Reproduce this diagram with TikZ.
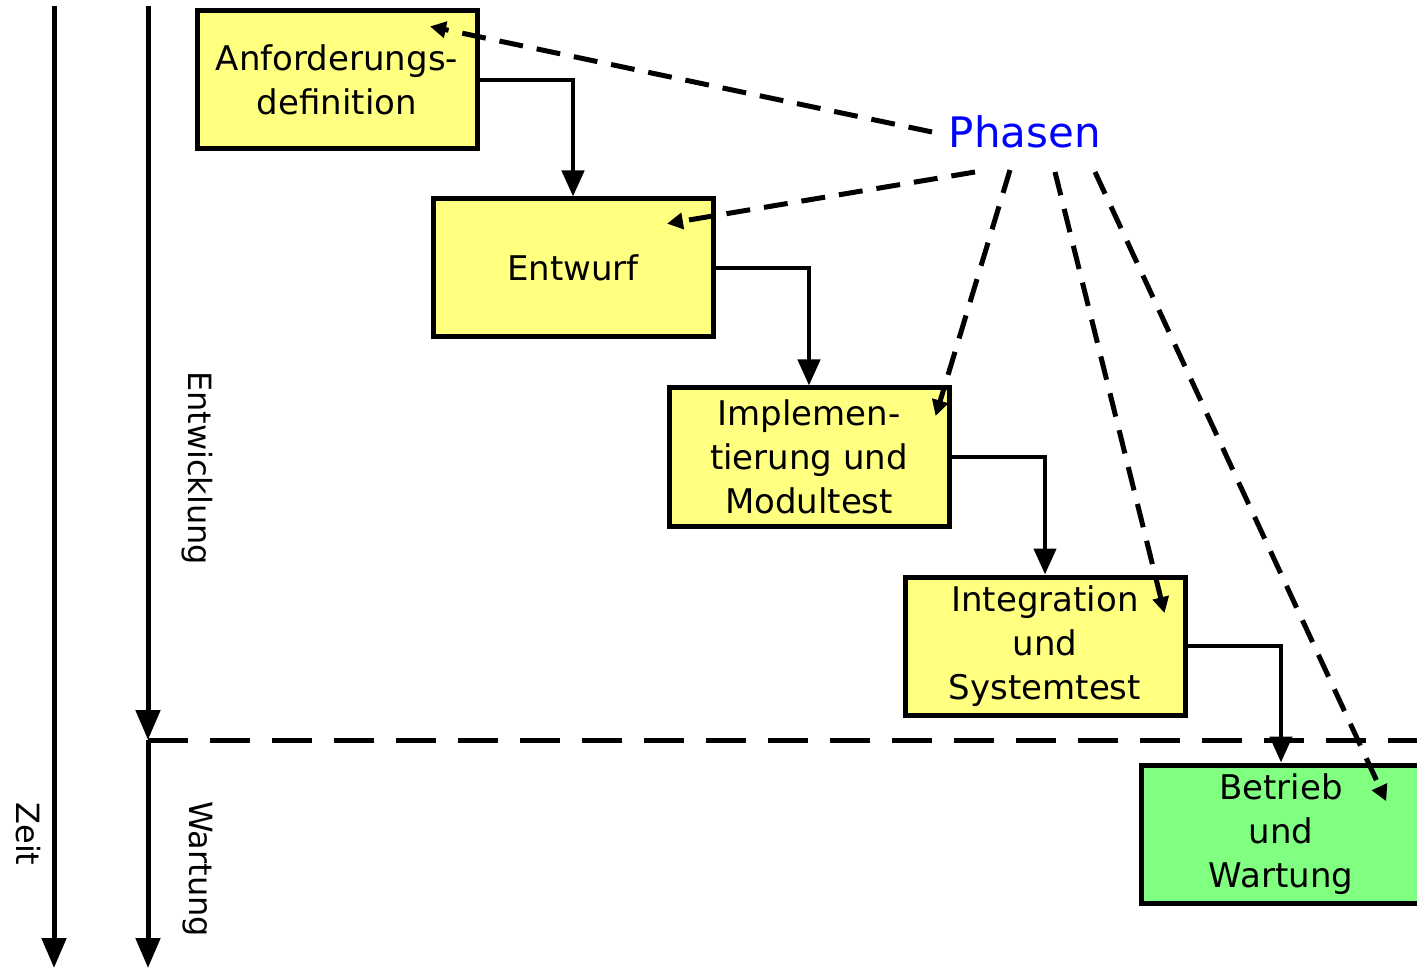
\documentclass[tikz,border=0pt]{standalone}
\usepackage{fontspec}
\setmainfont{DejaVu Sans}
\usetikzlibrary{arrows.meta}
\definecolor{boxyellow}{HTML}{FFFF80}
\definecolor{boxgreen}{HTML}{80FF80}
\begin{document}
\begin{tikzpicture}[x=1pt,y=-1pt,
  phase/.style={draw=black,line width=5pt,fill=boxyellow,minimum width=280pt,minimum height=138pt,inner sep=0pt,align=center,font=\fontsize{34}{44}\selectfont},
  flow/.style={line width=4.5pt,-{Triangle[length=26pt,width=22pt]}},
  time/.style={line width=5pt,-{Triangle[length=30pt,width=24pt]}},
  pointer/.style={line width=5pt,dash pattern=on 24pt off 14pt,-{Triangle[length=16pt,width=16pt]},shorten >=2pt},
  vlabel/.style={rotate=-90,font=\fontsize{32}{36}\selectfont}]
\useasboundingbox (0,0) rectangle (1417,968);
\node[phase] (a) at (337,80) {Anforderungs-\\definition};
\node[phase] (b) at (573,268) {Entwurf};
\node[phase] (c) at (809,457) {Implemen-\\tierung und\\Modultest};
\node[phase] (d) at (1045,646) {Integration\\und\\Systemtest};
\node[phase,fill=boxgreen] (e) at (1281,834) {Betrieb\\und\\Wartung};
\draw[flow] (a.east) -| (b.north);
\draw[flow] (b.east) -| (c.north);
\draw[flow] (c.east) -| (d.north);
\draw[flow] (d.east) -| (e.north);
% time axes
\coordinate (z0) at (54,6);
\coordinate (z1) at (54,968);
\coordinate (w0) at (148,6);
\coordinate (w1) at (148,740);
\coordinate (w2) at (148,968);
\coordinate (h1) at (1417,740);
\draw[time] (z0) -- (z1);
\draw[time] (w0) -- (w1);
\draw[time] (w1) -- (w2);
\draw[line width=5pt,dash pattern=on 40pt off 22pt] (w1) -- (h1);
\node[vlabel] (zeit) at (28,834) {Zeit};
\node[vlabel] (entw) at (197,468) {Entwicklung};
\node[vlabel] (wart) at (198,869) {Wartung};
% Phasen
\node[text=blue,font=\fontsize{42}{46}\selectfont] (ph) at (1025,132) {Phasen};
\coordinate (p1) at (932,132);
\coordinate (p2) at (975,172);
\coordinate (p3) at (1010,170);
\coordinate (p4) at (1055,172);
\coordinate (p5) at (1095,172);
\coordinate (t1) at (428,26);
\coordinate (t2) at (665,224);
\coordinate (t3) at (935,418);
\coordinate (t4) at (1165,615);
\coordinate (t5) at (1387,803);
\draw[pointer] (p1) -- (t1);
\draw[pointer] (p2) -- (t2);
\draw[pointer] (p3) -- (t3);
\draw[pointer] (p4) -- (t4);
\draw[pointer] (p5) -- (t5);
\end{tikzpicture}
\end{document}
